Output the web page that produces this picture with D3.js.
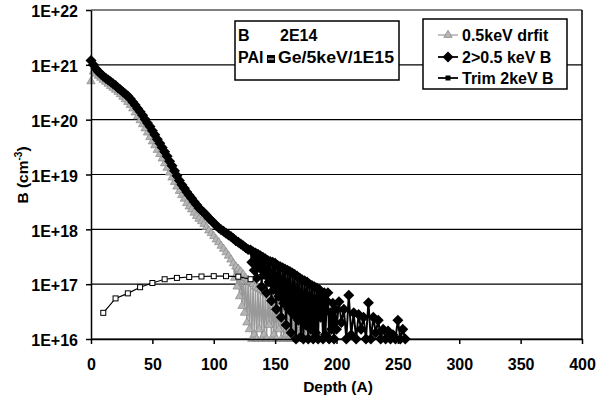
<!DOCTYPE html>
<html>
<head>
<meta charset="utf-8">
<script src="https://cdnjs.cloudflare.com/ajax/libs/d3/7.8.5/d3.min.js"></script>
<style>
  body { margin: 0; background: #fff; }
  svg text { font-family: "Liberation Sans", Arial, sans-serif; font-weight: bold; fill: #000; }
  .axis path, .axis line { stroke: #000; stroke-width: 1.5px; }
  .axis text { font-size: 16px; }
  .grid line { stroke: #000; stroke-width: 1.2px; }
</style>
</head>
<body>
<div id="graph1"></div>
<script>
// ---- data ----
// 0.5keV drfit (grey triangles), depth in A, conc in cm-3 (0 = below axis)
var drfitDepth = [0, 2, 4, 6, 8, 10, 12, 14, 16, 18, 20, 22, 24, 26, 28, 30, 32, 34, 36, 38,
  40, 42, 44, 46, 48, 50, 52, 54, 56, 58, 60, 62, 64, 66, 68, 70, 72, 74, 76, 78,
  80, 82, 84, 86, 88, 90, 92, 94, 96, 98, 100, 102, 104, 106, 108, 110, 112, 114,
  116, 117, 118, 119, 120, 121, 122, 123, 124, 125, 126, 127, 128, 129, 130, 131, 132, 133, 134, 135,
  136, 137, 138, 139, 140, 141, 142, 143, 144, 145, 146, 147, 148, 149, 150, 151, 152, 153, 154, 155,
  156, 157, 158, 159, 160, 161, 162, 163, 164, 165, 166, 167, 168, 169, 170,
  172, 174, 176, 178, 180, 182, 184, 186];
var drfitConc = [5e20, 7.5e20, 6.9e20, 6.3e20, 5.8e20, 5.3e20, 4.9e20, 4.5e20, 4.1e20, 3.8e20,
  3.5e20, 3.2e20, 2.9e20, 2.6e20, 2.35e20, 2.1e20, 1.85e20, 1.6e20, 1.35e20, 1.15e20,
  9.7e19, 8.2e19, 6.9e19, 5.8e19, 4.8e19, 4.0e19, 3.4e19, 2.8e19, 2.35e19, 1.95e19,
  1.6e19, 1.32e19, 1.08e19, 8.8e18, 7.3e18, 6.0e18, 5.0e18, 4.2e18, 3.6e18, 3.0e18,
  2.6e18, 2.3e18, 2.0e18, 1.75e18, 1.55e18, 1.4e18, 1.25e18, 1.1e18, 9.5e17, 8.5e17,
  7.5e17, 6.5e17, 5.8e17, 5.0e17, 4.4e17, 3.8e17, 3.3e17, 2.8e17,
  2.4e17, 1.3e17, 2.1e17, 9e16, 1.9e17, 6e16, 1.7e17, 4e16, 1.5e17, 3e16,
  1.3e17, 2e16, 1.2e17, 1.5e16, 1.1e17, 0, 1e17, 1.2e16, 9e16, 0,
  8.5e16, 1.5e16, 8e16, 0, 7.5e16, 1.2e16, 7e16, 0, 6.5e16, 1.8e16,
  6e16, 0, 5.5e16, 1.2e16, 5e16, 0, 4.5e16, 1.5e16, 4e16, 0,
  3.8e16, 0, 3.5e16, 1.2e16, 3e16, 0, 2.8e16, 0, 2.5e16, 0,
  2.2e16, 0, 2e16, 0, 1.8e16,
  0, 1.5e16, 0, 1.3e16, 0, 1.2e16, 0, 0];

// 2>0.5 keV B (black diamonds)
var bDepth = [0, 2, 4, 6, 8, 10, 12, 14, 16, 18, 20, 22, 24, 26, 28, 30, 32, 34, 36, 38,
  40, 42, 44, 46, 48, 50, 52, 54, 56, 58, 60, 62, 64, 66, 68, 70, 72, 74, 76, 78,
  80, 82, 84, 86, 88, 90, 92, 94, 96, 98, 100, 102, 104, 106, 108, 110, 112, 114, 116, 118,
  120, 122, 124, 126, 128,
  130, 131, 132, 133, 134, 135, 136, 137, 138, 139, 140, 141, 142, 143, 144, 145, 146, 147, 148, 149,
  150, 151, 152, 153, 154, 155, 156, 157, 158, 159, 160, 161, 162, 163, 164, 165, 166, 167, 168, 169,
  170, 171, 172, 173, 174, 175, 176, 177, 178, 179, 180, 181, 182, 183, 184, 185, 186, 187, 188, 189,
  190, 191, 192, 193, 194, 195, 196, 197, 198, 199, 200,
  202, 204, 206, 208, 210, 212, 214, 216, 218, 220, 222, 224, 226, 228, 230, 232, 234, 236, 238,
  240, 242, 244, 246, 248, 250, 252, 254, 256];
var bConc = [1.2e21, 1.0e21, 8.5e20, 7.5e20, 6.8e20, 6.2e20, 5.7e20, 5.3e20, 4.9e20, 4.5e20,
  4.2e20, 3.8e20, 3.5e20, 3.2e20, 2.95e20, 2.7e20, 2.4e20, 2.1e20, 1.85e20, 1.6e20,
  1.4e20, 1.2e20, 1.02e20, 8.7e19, 7.5e19, 6.3e19, 5.3e19, 4.4e19, 3.7e19, 3.1e19,
  2.6e19, 2.15e19, 1.75e19, 1.45e19, 1.17e19, 9.5e18, 7.8e18, 6.5e18, 5.6e18, 4.8e18,
  4.2e18, 3.7e18, 3.2e18, 2.8e18, 2.45e18, 2.2e18, 2.0e18, 1.8e18, 1.6e18, 1.45e18,
  1.3e18, 1.17e18, 1.07e18, 9.8e17, 9.2e17, 8.5e17, 7.9e17, 7.4e17, 6.8e17, 6.2e17,
  5.8e17, 5.4e17, 5.0e17, 4.6e17, 4.3e17,
  4.2e17, 2.5e17, 3.9e17, 1.8e17, 3.7e17, 1.3e17, 3.5e17, 2.0e17, 3.3e17, 9e16,
  3.1e17, 1.5e17, 2.9e17, 7e16, 2.7e17, 1.1e17, 2.6e17, 5e16, 2.5e17, 8e16,
  2.4e17, 3.5e16, 2.2e17, 6e16, 2.1e17, 2.5e16, 2.0e17, 4.5e16, 1.9e17, 1.8e16,
  1.8e17, 3.5e16, 1.7e17, 1.3e16, 1.6e17, 2.8e16, 1.5e17, 0, 1.4e17, 2.2e16,
  1.3e17, 1.1e16, 1.2e17, 0, 1.15e17, 1.8e16, 1.1e17, 0, 1.0e17, 1.5e16,
  9.5e16, 0, 9e16, 1.3e16, 8.5e16, 0, 8e16, 2.5e16, 6e16, 0,
  7e16, 1.2e16, 5e16, 7e16, 0, 3e16, 1.5e16, 4.5e16, 0, 3.5e16, 1.5e16,
  4.8e16, 2e16, 3.5e16, 0, 6.3e16, 1.2e16, 3e16, 0, 2.8e16,
  1.5e16, 2.5e16, 0, 4.6e16, 0, 2.5e16, 1.3e16, 2.2e16, 0, 1.5e16,
  0, 1.4e16, 0, 1.2e16, 0, 2.2e16, 0, 1.5e16, 0];

// Trim 2keV B (open squares)
var trimDepth = [10, 20, 30, 40, 50, 60, 70, 80, 90, 100, 110, 120, 130];
var trimConc = [3e16, 5.5e16, 6.8e16, 8.8e16, 1.05e17, 1.23e17, 1.3e17, 1.35e17, 1.38e17, 1.4e17, 1.4e17, 1.37e17, 1.23e17];

var xTicks = [0, 50, 100, 150, 200, 250, 300, 350, 400];
var yTicks = [1e16, 1e17, 1e18, 1e19, 1e20, 1e21, 1e22];
var yTickLabels = ["1E+16", "1E+17", "1E+18", "1E+19", "1E+20", "1E+21", "1E+22"];
var legendNames = ["0.5keV drfit", "2>0.5 keV B", "Trim 2keV B"];

var margin = {top: 10, right: 26, bottom: 64, left: 91},
    width = 608 - margin.left - margin.right,
    height = 403 - margin.top - margin.bottom;

var x = d3.scaleLinear().domain([0, 400]).range([0, width]);
var y = d3.scaleLog().domain([1e16, 1e22]).range([height, 0]);

// zero / below-range values sit on the axis, as on the original log plot
function yv(v) { return y(Math.max(v, 1e16)); }

var line = d3.line()
    .x(function(d) { return x(d[0]); })
    .y(function(d) { return yv(d[1]); });

var svgRoot = d3.select("#graph1").append("svg")
    .attr("width", 608)
    .attr("height", 403);

var svg = svgRoot.append("g")
    .attr("transform", "translate(" + margin.left + "," + margin.top + ")");

// horizontal gridlines (top one doubles as frame)
svg.append("g").attr("class", "grid")
  .selectAll("line").data(yTicks).enter().append("line")
    .attr("x1", 0).attr("x2", width)
    .attr("y1", function(d) { return y(d); })
    .attr("y2", function(d) { return y(d); });

// right frame
svg.append("line")
    .attr("x1", width).attr("x2", width)
    .attr("y1", 0).attr("y2", height)
    .attr("stroke", "#000").attr("stroke-width", 1.5);

// ---- series ----
var drfit = d3.zip(drfitDepth, drfitConc);
var boron = d3.zip(bDepth, bConc);
var trim = d3.zip(trimDepth, trimConc);

var tri = d3.symbol().type(d3.symbolTriangle).size(30);
var diamond = "M0,-5.5L5.5,0L0,5.5L-5.5,0Z";

svg.append("path").datum(drfit)
    .attr("fill", "none").attr("stroke", "#999").attr("stroke-width", 1.4)
    .attr("d", line);
svg.append("g").selectAll("path").data(drfit).enter().append("path")
    .attr("d", tri)
    .attr("transform", function(d) { return "translate(" + x(d[0]) + "," + yv(d[1]) + ")"; })
    .attr("fill", "#b5b5b5").attr("stroke", "#8a8a8a").attr("stroke-width", 0.7);

svg.append("path").datum(boron)
    .attr("fill", "none").attr("stroke", "#000").attr("stroke-width", 2)
    .attr("d", line);
svg.append("g").selectAll("path").data(boron).enter().append("path")
    .attr("d", diamond)
    .attr("transform", function(d) { return "translate(" + x(d[0]) + "," + yv(d[1]) + ")"; })
    .attr("fill", "#000");

svg.append("path").datum(trim)
    .attr("fill", "none").attr("stroke", "#000").attr("stroke-width", 1.2)
    .attr("d", line);
svg.append("g").selectAll("rect").data(trim).enter().append("rect")
    .attr("x", function(d) { return x(d[0]) - 2.5; })
    .attr("y", function(d) { return yv(d[1]) - 2.5; })
    .attr("width", 5).attr("height", 5)
    .attr("fill", "#fff").attr("stroke", "#000").attr("stroke-width", 1);

// ---- axes ----
svg.append("g").attr("class", "axis")
    .attr("transform", "translate(0," + height + ")")
    .call(d3.axisBottom(x).tickValues(xTicks).tickSize(5).tickPadding(15).tickSizeOuter(0));

svg.append("g").attr("class", "axis")
    .call(d3.axisLeft(y).tickValues(yTicks).tickSize(5).tickPadding(8).tickSizeOuter(0)
      .tickFormat(function(d, i) { return yTickLabels[i]; }))
  .selectAll("text").attr("dy", "0.42em");

svgRoot.append("text")
    .attr("x", 338).attr("y", 392)
    .attr("text-anchor", "middle")
    .style("font-size", "15.5px")
    .text("Depth (A)");

var yTitle = svgRoot.append("text")
    .attr("transform", "translate(28,175) rotate(-90)")
    .attr("text-anchor", "middle")
    .style("font-size", "15.5px");
yTitle.append("tspan").text("B (cm");
yTitle.append("tspan").attr("dy", -6).style("font-size", "10px").text("-3");
yTitle.append("tspan").attr("dy", 6).text(")");

// ---- implant note box ----
var note = svgRoot.append("g");
note.append("rect")
    .attr("x", 235).attr("y", 21).attr("width", 164).attr("height", 59)
    .attr("fill", "#fff").attr("stroke", "#000").attr("stroke-width", 1.5);
note.append("text").attr("x", 238).attr("y", 41).style("font-size", "16px").text("B");
note.append("text").attr("x", 280).attr("y", 41).style("font-size", "16px").text("2E14");
note.append("text").attr("x", 238).attr("y", 63).style("font-size", "16px").text("PAI");
note.append("rect").attr("x", 267).attr("y", 55).attr("width", 8).attr("height", 8).attr("fill", "#000");
note.append("line").attr("x1", 268).attr("x2", 274).attr("y1", 59).attr("y2", 59)
    .attr("stroke", "#fff").attr("stroke-width", 1);
note.append("text").attr("x", 278).attr("y", 63).style("font-size", "16px")
    .attr("textLength", 116).attr("lengthAdjust", "spacingAndGlyphs").text("Ge/5keV/1E15");

// ---- legend ----
var legend = svgRoot.append("g");
legend.append("rect")
    .attr("x", 423).attr("y", 19).attr("width", 144).attr("height", 70)
    .attr("fill", "#fff").attr("stroke", "#000").attr("stroke-width", 1.5);

var rowY = [35, 57, 78];
var lineCol = ["#999", "#000", "#000"];
legendNames.forEach(function(name, i) {
  var g = legend.append("g").attr("transform", "translate(0," + rowY[i] + ")");
  g.append("line").attr("x1", 438).attr("x2", 458).attr("y1", 0).attr("y2", 0)
      .attr("stroke", lineCol[i]).attr("stroke-width", i === 0 ? 1.2 : 1.8);
  if (i === 0) {
    g.append("path").attr("d", tri).attr("transform", "translate(448,0)")
        .attr("fill", "#b5b5b5").attr("stroke", "#808080").attr("stroke-width", 0.7);
  } else if (i === 1) {
    g.append("path").attr("d", diamond).attr("transform", "translate(448,0)").attr("fill", "#000");
  } else {
    g.append("rect").attr("x", 445.5).attr("y", -2.5).attr("width", 5).attr("height", 5).attr("fill", "#000");
  }
  g.append("text").attr("x", 462).attr("y", 6).style("font-size", "16px").text(name);
});
</script>
</body>
</html>
